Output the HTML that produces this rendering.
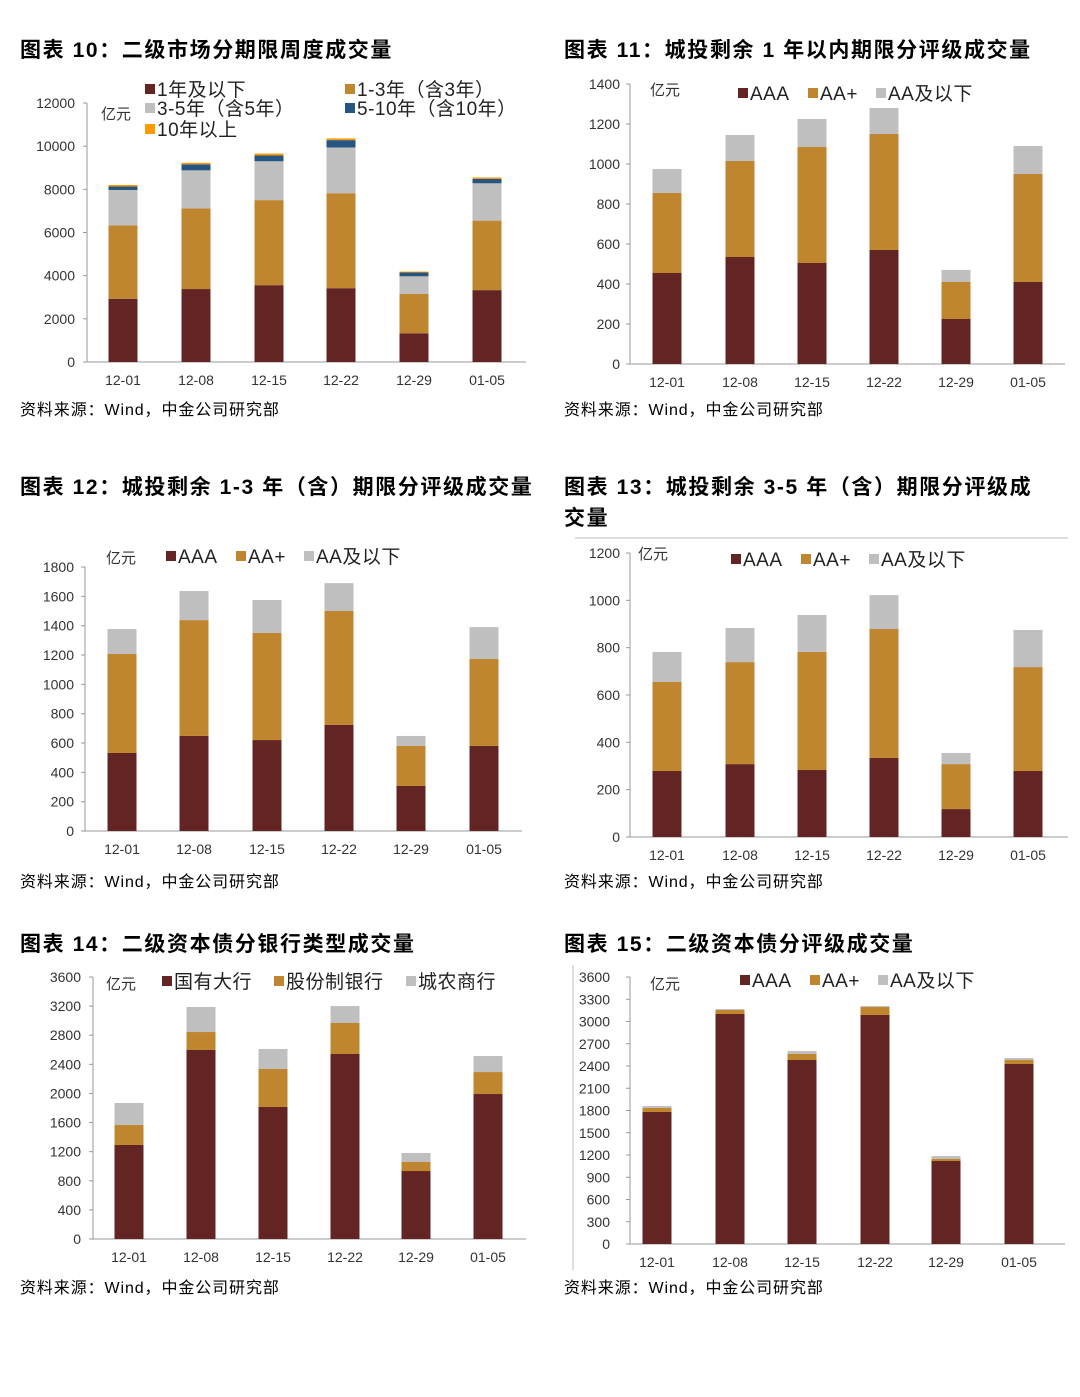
<!DOCTYPE html>
<html><head><meta charset="utf-8"><style>
body{margin:0;background:#fff;}
svg{display:block;font-family:"Liberation Sans","Noto Sans CJK SC",sans-serif;}
.t{font-size:21px;font-weight:bold;fill:#000;letter-spacing:1.6px}
.s{font-size:16px;fill:#000;letter-spacing:0.9px}
.k{font-size:14px;fill:#333}
.l{font-size:19px;fill:#222;letter-spacing:0.5px}
</style></head><body>
<svg id="c" width="1080" height="1397" xmlns="http://www.w3.org/2000/svg">
<text class="t" x="20" y="57">图表 10：二级市场分期限周度成交量</text>
<text class="t" x="564" y="57">图表 11：城投剩余 1 年以内期限分评级成交量</text>
<text class="t" x="20" y="494">图表 12：城投剩余 1-3 年（含）期限分评级成交量</text>
<text class="t" x="564" y="494">图表 13：城投剩余 3-5 年（含）期限分评级成</text>
<text class="t" x="564" y="525">交量</text>
<text class="t" x="20" y="951">图表 14：二级资本债分银行类型成交量</text>
<text class="t" x="564" y="951">图表 15：二级资本债分评级成交量</text>
<text class="s" x="20" y="415">资料来源：Wind，中金公司研究部</text>
<text class="s" x="564" y="415">资料来源：Wind，中金公司研究部</text>
<text class="s" x="20" y="887">资料来源：Wind，中金公司研究部</text>
<text class="s" x="564" y="887">资料来源：Wind，中金公司研究部</text>
<text class="s" x="20" y="1293">资料来源：Wind，中金公司研究部</text>
<text class="s" x="564" y="1293">资料来源：Wind，中金公司研究部</text>
<line x1="575" y1="538" x2="1068" y2="538" stroke="#bbb"/>
<line x1="573" y1="965" x2="573" y2="1270" stroke="#bbb"/>
</svg>
<script>
var C=["#632523","#C0852F","#BFBFBF","#255580","#FF9900"];
var svg=document.getElementById("c");
function el(t,a,txt){var e=document.createElementNS("http://www.w3.org/2000/svg",t);for(var k in a)e.setAttribute(k,a[k]);if(txt!==undefined)e.textContent=txt;svg.appendChild(e);return e;}
var labs=["12-01","12-08","12-15","12-22","12-29","01-05"];
function chart(o){
 var sc=(o.y0-o.ytop)/o.max;
 el("line",{x1:o.x0,y1:o.ytop,x2:o.x0,y2:o.y0,stroke:"#999"});
 el("line",{x1:o.x0,y1:o.y0,x2:o.x1,y2:o.y0,stroke:"#999"});
 for(var v=0;v<=o.max+0.1;v+=o.step){var y=o.y0-v*sc;el("text",{x:o.tx,y:y+5,"text-anchor":"end","class":"k"},String(v));
  el("line",{x1:o.x0-4,y1:y,x2:o.x0,y2:y,stroke:"#999"});}
 o.cx.forEach(function(cx,i){
  var prev=0;o.d[i].forEach(function(top,j){el("rect",{x:cx-14.5,y:o.y0-top*sc,width:29,height:(top-prev)*sc,fill:C[j]});prev=top;});
  el("text",{x:cx,y:o.y0+23,"text-anchor":"middle","class":"k"},labs[i]);
 });
 el("text",{x:o.ux,y:o.uy,"class":"k",style:"font-size:15px"},"亿元");
 o.leg.forEach(function(g){el("rect",{x:g[0],y:g[1]-11,width:10,height:10,fill:C[g[3]]});el("text",{x:g[0]+12,y:g[1]+1,"class":"l"},g[2]);});
}
chart({x0:87,x1:526,y0:362,ytop:103,max:12000,step:2000,tx:75,cx:[123,196,269,341,414,487],ux:101,uy:119,
d:[[2930,6330,7970,8130,8200],[3380,7120,8880,9160,9230],[3560,7500,9300,9570,9660],[3420,7820,9940,10280,10360],[1330,3150,3970,4150,4190],[3330,6550,8280,8490,8550]],
leg:[[145,95,"1年及以下",0],[345,95,"1-3年（含3年）",1],[145,114,"3-5年（含5年）",2],[345,114,"5-10年（含10年）",3],[145,135,"10年以上",4]]});
chart({x0:630,x1:1065,y0:364,ytop:84,max:1400,step:200,tx:620,cx:[667,740,812,884,956,1028],ux:650,uy:95,
d:[[455,855,975],[535,1015,1145],[505,1085,1225],[570,1150,1280],[225,410,470],[410,950,1090]],
leg:[[738,99,"AAA",0],[808,99,"AA+",1],[876,99,"AA及以下",2]]});
chart({x0:85,x1:522,y0:831,ytop:567,max:1800,step:200,tx:74,cx:[122,194,267,339,411,484],ux:106,uy:563,
d:[[532,1207,1377],[648,1438,1636],[620,1350,1575],[723,1500,1690],[307,580,648],[580,1173,1390]],
leg:[[166,562,"AAA",0],[236,562,"AA+",1],[304,562,"AA及以下",2]]});
chart({x0:630,x1:1068,y0:837,ytop:553,max:1200,step:200,tx:620,cx:[667,740,812,884,956,1028],ux:638,uy:559,
d:[[279,655,782],[308,739,883],[283,782,938],[334,879,1022],[118,308,355],[279,718,875]],
leg:[[731,565,"AAA",0],[801,565,"AA+",1],[869,565,"AA及以下",2]]});
chart({x0:93,x1:526,y0:1239,ytop:977,max:3600,step:400,tx:81,cx:[129,201,273,345,416,488],ux:106,uy:989,
d:[[1292,1566,1869],[2597,2844,3188],[1814,2336,2611],[2542,2968,3201],[934,1058,1182],[1992,2294,2514]],
leg:[[162,987,"国有大行",0],[274,987,"股份制银行",1],[406,987,"城农商行",2]]});
chart({x0:630,x1:1065,y0:1244,ytop:977,max:3600,step:300,tx:610,cx:[657,730,802,875,946,1019],ux:650,uy:989,
d:[[1780,1834,1861],[3101,3155,3168],[2481,2562,2602],[3088,3195,3209],[1119,1146,1186],[2427,2481,2508]],
leg:[[740,986,"AAA",0],[810,986,"AA+",1],[878,986,"AA及以下",2]]});
</script>
</body></html>
